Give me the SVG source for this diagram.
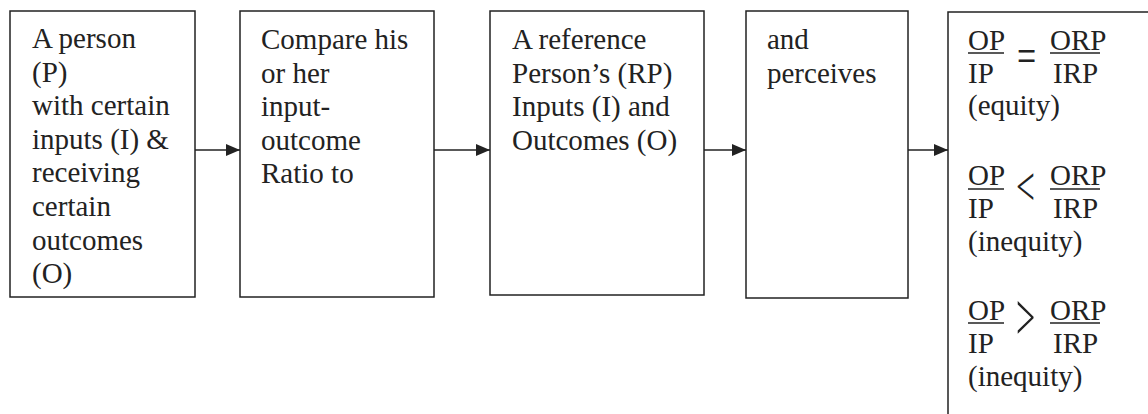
<svg xmlns="http://www.w3.org/2000/svg" width="1148" height="414" viewBox="0 0 1148 414">
  <defs>
    <marker id="arr" viewBox="0 0 14 12" refX="14" refY="6" markerWidth="14" markerHeight="12" markerUnits="userSpaceOnUse" orient="auto">
      <path d="M0,0 L14,6 L0,12 Z" fill="#222"/>
    </marker>
    <style>
      .box { fill: #fff; stroke: #222; stroke-width: 1.5; }
      .t { font-size: 29px; fill: #222; }
      .conn line { stroke: #222; stroke-width: 1.5; marker-end: url(#arr); }
      .bar { stroke: #222; stroke-width: 1.6; }
    </style>
  </defs>
  <rect width="1148" height="414" fill="#fff"/>
  <g font-family="'Liberation Serif', 'Times New Roman', 'DejaVu Serif', serif">

  <g id="node1">
    <rect class="box" x="10" y="11" width="185" height="286"/>
    <text class="t">
      <tspan x="32" y="48">A person</tspan>
      <tspan x="32" y="81.6">(P)</tspan>
      <tspan x="32" y="115.2">with certain</tspan>
      <tspan x="32" y="148.8">inputs (I) &amp;</tspan>
      <tspan x="32" y="182.4">receiving</tspan>
      <tspan x="32" y="216">certain</tspan>
      <tspan x="32" y="249.6">outcomes</tspan>
      <tspan x="32" y="283.2">(O)</tspan>
    </text>
  </g>

  <g id="node2">
    <rect class="box" x="240" y="11" width="194" height="286"/>
    <text class="t">
      <tspan x="261" y="49">Compare his</tspan>
      <tspan x="261" y="82.6">or her</tspan>
      <tspan x="261" y="116.2">input-</tspan>
      <tspan x="261" y="149.8">outcome</tspan>
      <tspan x="261" y="183.4">Ratio to</tspan>
    </text>
  </g>

  <g id="node3">
    <rect class="box" x="490" y="11" width="214" height="284"/>
    <text class="t">
      <tspan x="512" y="49">A reference</tspan>
      <tspan x="512" y="82.6">Person’s (RP)</tspan>
      <tspan x="512" y="116.2">Inputs (I) and</tspan>
      <tspan x="512" y="149.8">Outcomes (O)</tspan>
    </text>
  </g>

  <g id="node4">
    <rect class="box" x="746" y="11" width="162" height="287"/>
    <text class="t">
      <tspan x="767" y="49">and</tspan>
      <tspan x="767" y="82.6">perceives</tspan>
    </text>
  </g>

  <g id="node5">
    <rect class="box" x="948" y="12" width="260" height="460"/>
    <text class="t" x="968" y="50">OP</text>
    <line class="bar" x1="968" y1="53" x2="1004" y2="53"/>
    <text class="t" x="968" y="83">IP</text>
    <text class="t" transform="translate(1017,72) scale(1.17,1.65)">=</text>
    <text class="t" x="1050" y="50">ORP</text>
    <line class="bar" x1="1050" y1="53" x2="1100" y2="53"/>
    <text class="t" x="1053" y="83">IRP</text>
    <text class="t" x="968" y="115">(equity)</text>

    <text class="t" x="968" y="185">OP</text>
    <line class="bar" x1="968" y1="189" x2="1004" y2="189"/>
    <text class="t" x="968" y="218">IP</text>
    <text class="t" transform="translate(1016,205) scale(0.62,1)" style="font-size:54px">&lt;</text>
    <text class="t" x="1050" y="185">ORP</text>
    <line class="bar" x1="1050" y1="189" x2="1100" y2="189"/>
    <text class="t" x="1053" y="218">IRP</text>
    <text class="t" x="968" y="251">(inequity)</text>

    <text class="t" x="968" y="320">OP</text>
    <line class="bar" x1="968" y1="323" x2="1004" y2="323"/>
    <text class="t" x="968" y="353">IP</text>
    <text class="t" transform="translate(1016,340) scale(0.5,1)" style="font-size:68px">&gt;</text>
    <text class="t" x="1050" y="320">ORP</text>
    <line class="bar" x1="1050" y1="323" x2="1100" y2="323"/>
    <text class="t" x="1053" y="353">IRP</text>
    <text class="t" x="968" y="386">(inequity)</text>
  </g>
  </g>

  <g id="connectors" class="conn">
    <line x1="195" y1="150" x2="240" y2="150"/>
    <line x1="434" y1="150" x2="490" y2="150"/>
    <line x1="704" y1="150" x2="746" y2="150"/>
    <line x1="908" y1="150" x2="948" y2="150"/>
  </g>
</svg>
